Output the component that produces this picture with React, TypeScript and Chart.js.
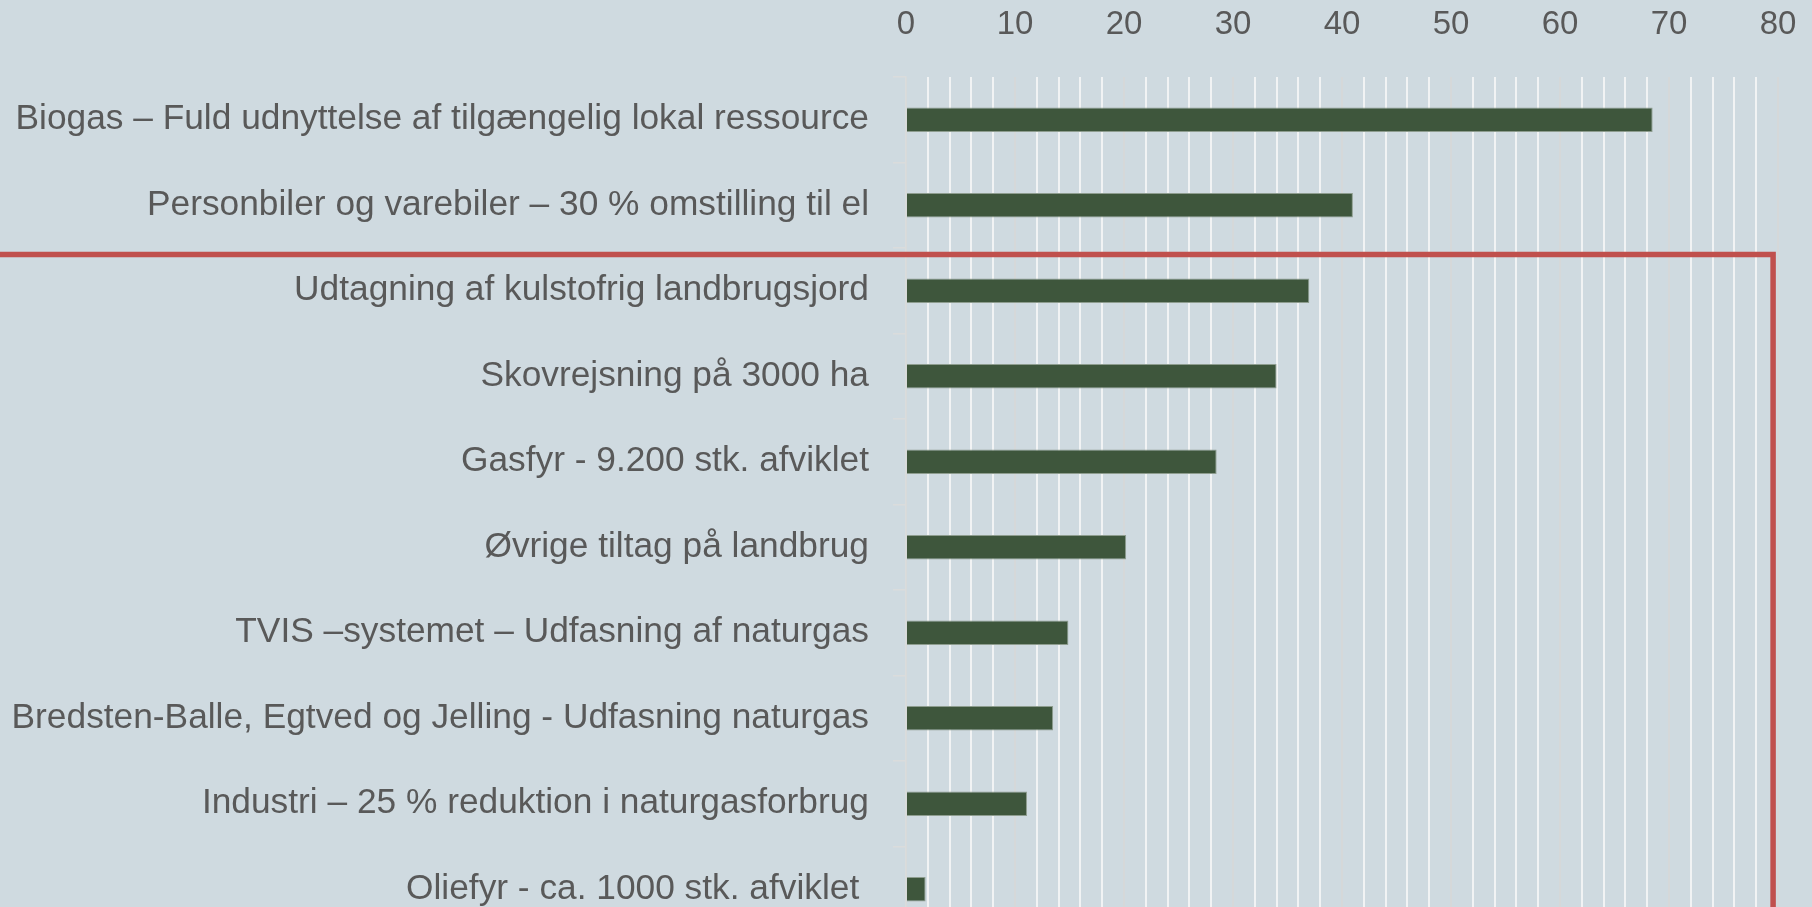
import React, { useEffect, useRef } from 'react';
import { Chart, registerables } from 'chart.js';

Chart.register(...registerables);

// ---- data ----
const categories = [
  'Biogas – Fuld udnyttelse af tilgængelig lokal ressource',
  'Personbiler og varebiler – 30 % omstilling til el',
  'Udtagning af kulstofrig landbrugsjord',
  'Skovrejsning på 3000 ha',
  'Gasfyr - 9.200 stk. afviklet',
  'Øvrige tiltag på landbrug',
  'TVIS –systemet – Udfasning af naturgas',
  'Bredsten-Balle, Egtved og Jelling - Udfasning naturgas',
  'Industri – 25 % reduktion i naturgasforbrug',
  'Oliefyr - ca. 1000 stk. afviklet ',
];
const values = [68.5, 41.0, 37.0, 34.0, 28.5, 20.2, 14.9, 13.5, 11.1, 1.8];
const xTickLabels = [0, 10, 20, 30, 40, 50, 60, 70, 80];
const xMin = 0;
const xMax = 80;
const minorStep = 2;

// red highlight frame (in data units of the axes)
const frameYIndex = 1.576;
const frameXValue = 79.55;

const W = 1812;
const H = 932;
const VIEW_H = 907;

const FONT_FAMILY = "'Liberation Sans', Arial, sans-serif";
const TEXT_COLOR = '#595959';

const framePlugin = {
  id: 'redFrame',
  afterDraw(chart: any) {
    const { ctx } = chart;
    const y = chart.scales.y.getPixelForValue(frameYIndex);
    const x = chart.scales.x.getPixelForValue(frameXValue);
    ctx.save();
    ctx.strokeStyle = '#c0504d';
    ctx.lineWidth = 5.5;
    ctx.lineJoin = 'miter';
    ctx.beginPath();
    ctx.moveTo(0, y);
    ctx.lineTo(x, y);
    ctx.lineTo(x, chart.height + 10);
    ctx.stroke();
    ctx.restore();
  },
};

export default function App() {
  const ref = useRef<HTMLCanvasElement | null>(null);

  useEffect(() => {
    if (!ref.current) return;
    const chart = new Chart(ref.current, {
      type: 'bar',
      data: {
        labels: categories,
        datasets: [
          {
            data: values,
            backgroundColor: '#3e563c',
            borderColor: '#8e9d8f',
            borderWidth: 1,
            barPercentage: 0.288,
            categoryPercentage: 1,
          },
        ],
      },
      options: {
        indexAxis: 'y',
        animation: false,
        responsive: false,
        layout: { padding: { top: 0, right: 34, bottom: 0, left: 0 } },
        plugins: {
          legend: { display: false },
          tooltip: { enabled: false },
        },
        scales: {
          x: {
            position: 'top',
            min: xMin,
            max: xMax,
            afterBuildTicks: (scale: any) => {
              const t: any[] = [];
              for (let v = xMin; v <= xMax; v += minorStep) t.push({ value: v });
              scale.ticks = t;
            },
            afterFit: (scale: any) => {
              scale.height = 77;
              scale.paddingTop = 0;
              scale.paddingBottom = 0;
              scale.paddingLeft = 0;
              scale.paddingRight = 0;
            },
            ticks: {
              autoSkip: false,
              maxRotation: 0,
              padding: 32,
              color: TEXT_COLOR,
              font: { family: FONT_FAMILY, size: 33 },
              callback: (v: any) => (xTickLabels.includes(Number(v)) ? String(v) : ''),
            },
            grid: {
              drawTicks: false,
              lineWidth: 2,
              color: (c: any) =>
                c.tick && xTickLabels.includes(c.tick.value) ? '#d5d8d9' : '#f1f3f4',
            },
            border: { display: false },
          },
          y: {
            afterFit: (scale: any) => {
              scale.width = 906;
              scale.paddingTop = 0;
              scale.paddingBottom = 0;
            },
            ticks: {
              padding: 24,
              color: TEXT_COLOR,
              font: { family: FONT_FAMILY, size: 35.3 },
            },
            grid: {
              drawOnChartArea: false,
              drawTicks: true,
              tickLength: 13,
              offset: true,
              color: '#dadcdc',
              lineWidth: 1.5,
            },
            border: { display: true, color: '#dadcdc', width: 1.5 },
          },
        },
      },
      plugins: [framePlugin],
    } as any);
    return () => chart.destroy();
  }, []);

  return (
    <div
      style={{
        position: 'fixed',
        left: 0,
        top: 0,
        width: W,
        height: VIEW_H,
        overflow: 'hidden',
        background: '#cfdae0',
      }}
    >
      <canvas ref={ref} width={W} height={H} style={{ display: 'block', width: W, height: H }} />
    </div>
  );
}
